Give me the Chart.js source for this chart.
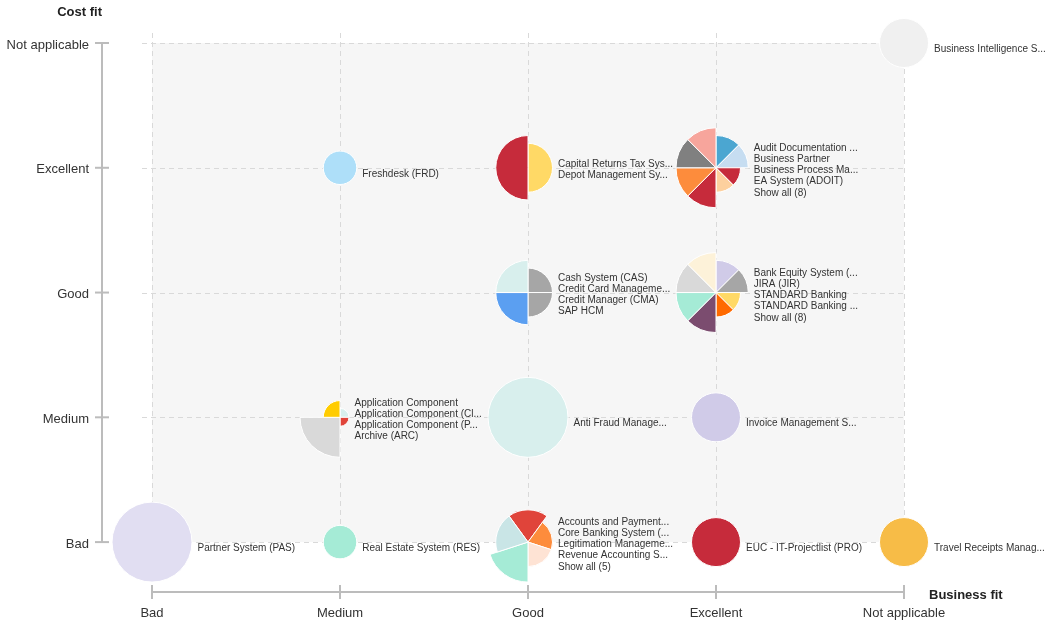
<!DOCTYPE html>
<html><head><meta charset="utf-8">
<script src="https://cdn.jsdelivr.net/npm/chart.js@4.4.1/dist/chart.umd.min.js"></script>
<style>html,body{margin:0;padding:0;background:#fff}#wrap{width:1056px;height:633px;position:relative}</style>
</head><body><div id="wrap"><canvas id="c"></canvas></div>
<script>
// ---- categories / tick labels ----
const businessFitLabels = ['Bad', 'Medium', 'Good', 'Excellent', 'Not applicable'];
const costFitLabels = ['Bad', 'Medium', 'Good', 'Excellent', 'Not applicable'];

// ---- cells holding a single application ----
const singleNames = ['Business Intelligence S...', 'Freshdesk (FRD)', 'Anti Fraud Manage...', 'Invoice Management S...',
  'Partner System (PAS)', 'Real Estate System (RES)', 'EUC - IT-Projectlist (PRO)', 'Travel Receipts Manag...'];
const singleBusiness = [4, 1, 2, 3, 0, 1, 3, 4];
const singleCost = [4, 3, 1, 1, 0, 0, 0, 0];
const singleSize = [3, 2, 5, 3, 5, 2, 3, 3];
const singleColors = ['#f0f0f0', '#aedff9', '#d8efed', '#d0cbe8', '#e1def2', '#a5ebd6', '#c62b3b', '#f7bc47'];

// ---- cells holding several applications ----
const clusterBusiness = [2, 3, 2, 3, 1, 2];
const clusterCost = [3, 3, 2, 2, 1, 0];
const clusterNames = [
  ['Capital Returns Tax Sys...', 'Depot Management Sy...'],
  ['Audit Documentation ...', 'Business Partner', 'Business Process Ma...', 'EA System (ADOIT)'],
  ['Cash System (CAS)', 'Credit Card Manageme...', 'Credit Manager (CMA)', 'SAP HCM'],
  ['Bank Equity System (...', 'JIRA (JIR)', 'STANDARD Banking', 'STANDARD Banking ...'],
  ['Application Component', 'Application Component (Cl...', 'Application Component (P...', 'Archive (ARC)'],
  ['Accounts and Payment...', 'Core Banking System (...', 'Legitimation Manageme...', 'Revenue Accounting S...']
];
const clusterSizes = [
  [3, 4],
  [4, 4, 3, 3, 5, 5, 5, 5],
  [3, 3, 4, 4],
  [4, 4, 3, 3, 5, 5, 5, 5],
  [1, 1, 5, 2],
  [4, 3, 3, 5, 4]
];
const clusterColors = [
  ['#ffd966', '#c62b3b'],
  ['#4ba6d1', '#c6ddf1', '#c62b3b', '#fdd09e', '#c62b3b', '#fd8c3c', '#808080', '#f7a59c'],
  ['#a6a6a6', '#a6a6a6', '#5b9ff1', '#d8efed'],
  ['#d0cbe8', '#a6a6a6', '#ffd966', '#ff6a00', '#7b4c6f', '#a5ebd6', '#d9d9d9', '#fdf2d9'],
  ['#d8efed', '#e0443a', '#d9d9d9', '#ffcc00'],
  ['#e0443a', '#fd8c3c', '#fee3d4', '#a5ebd6', '#c9e5e6']
];
const clusterStartDeg = [0, 0, 0, 0, 0, -36];

const FONT = '"Liberation Sans", Arial, Helvetica, sans-serif';
function radiusFor(s) { return 9 + (s - 1) * 7.75; }

const matrixPlugin = {
  id: 'matrix',
  beforeDatasetsDraw(chart) {
    const { ctx, scales: { x, y }, chartArea } = chart;
    const n = businessFitLabels.length - 1;
    const x0 = x.getPixelForValue(0), x1 = x.getPixelForValue(n);
    const y0 = y.getPixelForValue(0), y1 = y.getPixelForValue(n);
    ctx.save();
    ctx.fillStyle = '#f6f6f6';
    ctx.fillRect(x0, y1, x1 - x0, y0 - y1);
    ctx.strokeStyle = '#d9d9d9';
    ctx.lineWidth = 1;
    ctx.setLineDash([5, 4]);
    for (let i = 0; i <= n; i++) {
      const px = Math.round(x.getPixelForValue(i)) + 0.5;
      ctx.beginPath(); ctx.moveTo(px, y1 - 10); ctx.lineTo(px, y0); ctx.stroke();
      const py = Math.round(y.getPixelForValue(i)) + 0.5;
      ctx.beginPath(); ctx.moveTo(x0 - 10, py); ctx.lineTo(x1, py); ctx.stroke();
    }
    ctx.setLineDash([]);
    // axis lines with crossing tick marks
    ctx.strokeStyle = '#bcbcbc';
    ctx.lineWidth = 2;
    const ax = chartArea.left, ay = chartArea.bottom;
    ctx.beginPath(); ctx.moveTo(ax, y1); ctx.lineTo(ax, y0); ctx.stroke();
    ctx.beginPath(); ctx.moveTo(x0, ay); ctx.lineTo(x1, ay); ctx.stroke();
    for (let i = 0; i <= n; i++) {
      const py = y.getPixelForValue(i);
      ctx.beginPath(); ctx.moveTo(ax - 7, py); ctx.lineTo(ax + 7, py); ctx.stroke();
      const px = x.getPixelForValue(i);
      ctx.beginPath(); ctx.moveTo(px, ay - 7); ctx.lineTo(px, ay + 7); ctx.stroke();
    }
    ctx.restore();
  },
  afterDatasetsDraw(chart) {
    const { ctx, chartArea } = chart;
    ctx.save();
    // clusters as polar-area pies
    const cm = chart.getDatasetMeta(1);
    cm.data.forEach((el, i) => {
      const cx = el.x, cy = el.y;
      const sizes = clusterSizes[i], cols = clusterColors[i];
      const k = sizes.length, step = 2 * Math.PI / k;
      const start = -Math.PI / 2 + clusterStartDeg[i] * Math.PI / 180;
      let ext = 0;
      sizes.forEach((s, j) => {
        const r = radiusFor(s);
        const a0 = start + j * step, a1 = a0 + step;
        ctx.beginPath();
        ctx.moveTo(cx, cy);
        ctx.arc(cx, cy, r, a0, a1);
        ctx.closePath();
        ctx.fillStyle = cols[j];
        ctx.fill();
        ctx.strokeStyle = '#ffffff';
        ctx.lineWidth = 1;
        ctx.stroke();
        for (let t = 0; t <= 40; t++) {
          const a = a0 + (a1 - a0) * t / 40;
          ext = Math.max(ext, r * Math.cos(a));
        }
      });
      // labels
      const lines = clusterNames[i].slice();
      const more = sizes.length > lines.length;
      if (more) lines.push('Show all (' + sizes.length + ')');
      ctx.font = '10px ' + FONT;
      ctx.fillStyle = '#333';
      ctx.textAlign = 'left';
      ctx.textBaseline = 'middle';
      const tx = cx + ext + 5.5;
      let ty = cy - 5.2 * (lines.length - 1) + 1.2;
      lines.forEach((t, j) => {
        if (more && j === lines.length - 1) ty += 1.2;
        ctx.fillText(t, tx, ty);
        ty += 11;
      });
    });
    // single labels
    const sm = chart.getDatasetMeta(0);
    ctx.font = '10px ' + FONT;
    ctx.fillStyle = '#333';
    ctx.textAlign = 'left';
    ctx.textBaseline = 'middle';
    sm.data.forEach((el, i) => {
      ctx.fillText(singleNames[i], el.x + radiusFor(singleSize[i]) + 5.5, el.y + 6);
    });
    // axis titles
    ctx.font = 'bold 13px ' + FONT;
    ctx.fillStyle = '#222';
    ctx.textAlign = 'right';
    ctx.fillText('Cost fit', chartArea.left, 12);
    ctx.textAlign = 'left';
    ctx.fillText('Business fit', 929, chartArea.bottom + 3);
    ctx.restore();
  }
};

new Chart(document.getElementById('c'), {
  type: 'bubble',
  data: {
    datasets: [
      {
        label: 'Single applications',
        data: singleNames.map((_, i) => ({ x: singleBusiness[i], y: singleCost[i], r: radiusFor(singleSize[i]) })),
        backgroundColor: singleColors,
        borderColor: '#ffffff',
        borderWidth: 1,
        clip: false
      },
      {
        type: 'scatter',
        label: 'Application groups',
        data: clusterBusiness.map((b, i) => ({ x: b, y: clusterCost[i] })),
        pointRadius: 0,
        clip: false
      }
    ]
  },
  options: {
    responsive: true,
    maintainAspectRatio: false,
    animation: false,
    events: [],
    layout: { padding: { top: 43, right: 152, left: 0, bottom: 0 } },
    plugins: { legend: { display: false }, tooltip: { enabled: false } },
    scales: {
      x: {
        type: 'linear', min: -0.266, max: 4,
        afterBuildTicks: s => { s.ticks = businessFitLabels.map((_, i) => ({ value: i })); },
        afterFit: s => { s.height = 40; },
        grid: { display: false, drawTicks: false },
        border: { display: false },
        ticks: { callback: v => businessFitLabels[v], font: { family: FONT, size: 13 }, color: '#333', padding: 14, autoSkip: false, maxRotation: 0 }
      },
      y: {
        type: 'linear', min: -0.4, max: 4,
        afterBuildTicks: s => { s.ticks = costFitLabels.map((_, i) => ({ value: i })); },
        afterFit: s => { s.width = 102; },
        grid: { display: false, drawTicks: false },
        border: { display: false },
        ticks: { callback: v => costFitLabels[v], font: { family: FONT, size: 13 }, color: '#333', padding: 13, labelOffset: 2, autoSkip: false }
      }
    }
  },
  plugins: [matrixPlugin]
});
</script>
</body></html>
